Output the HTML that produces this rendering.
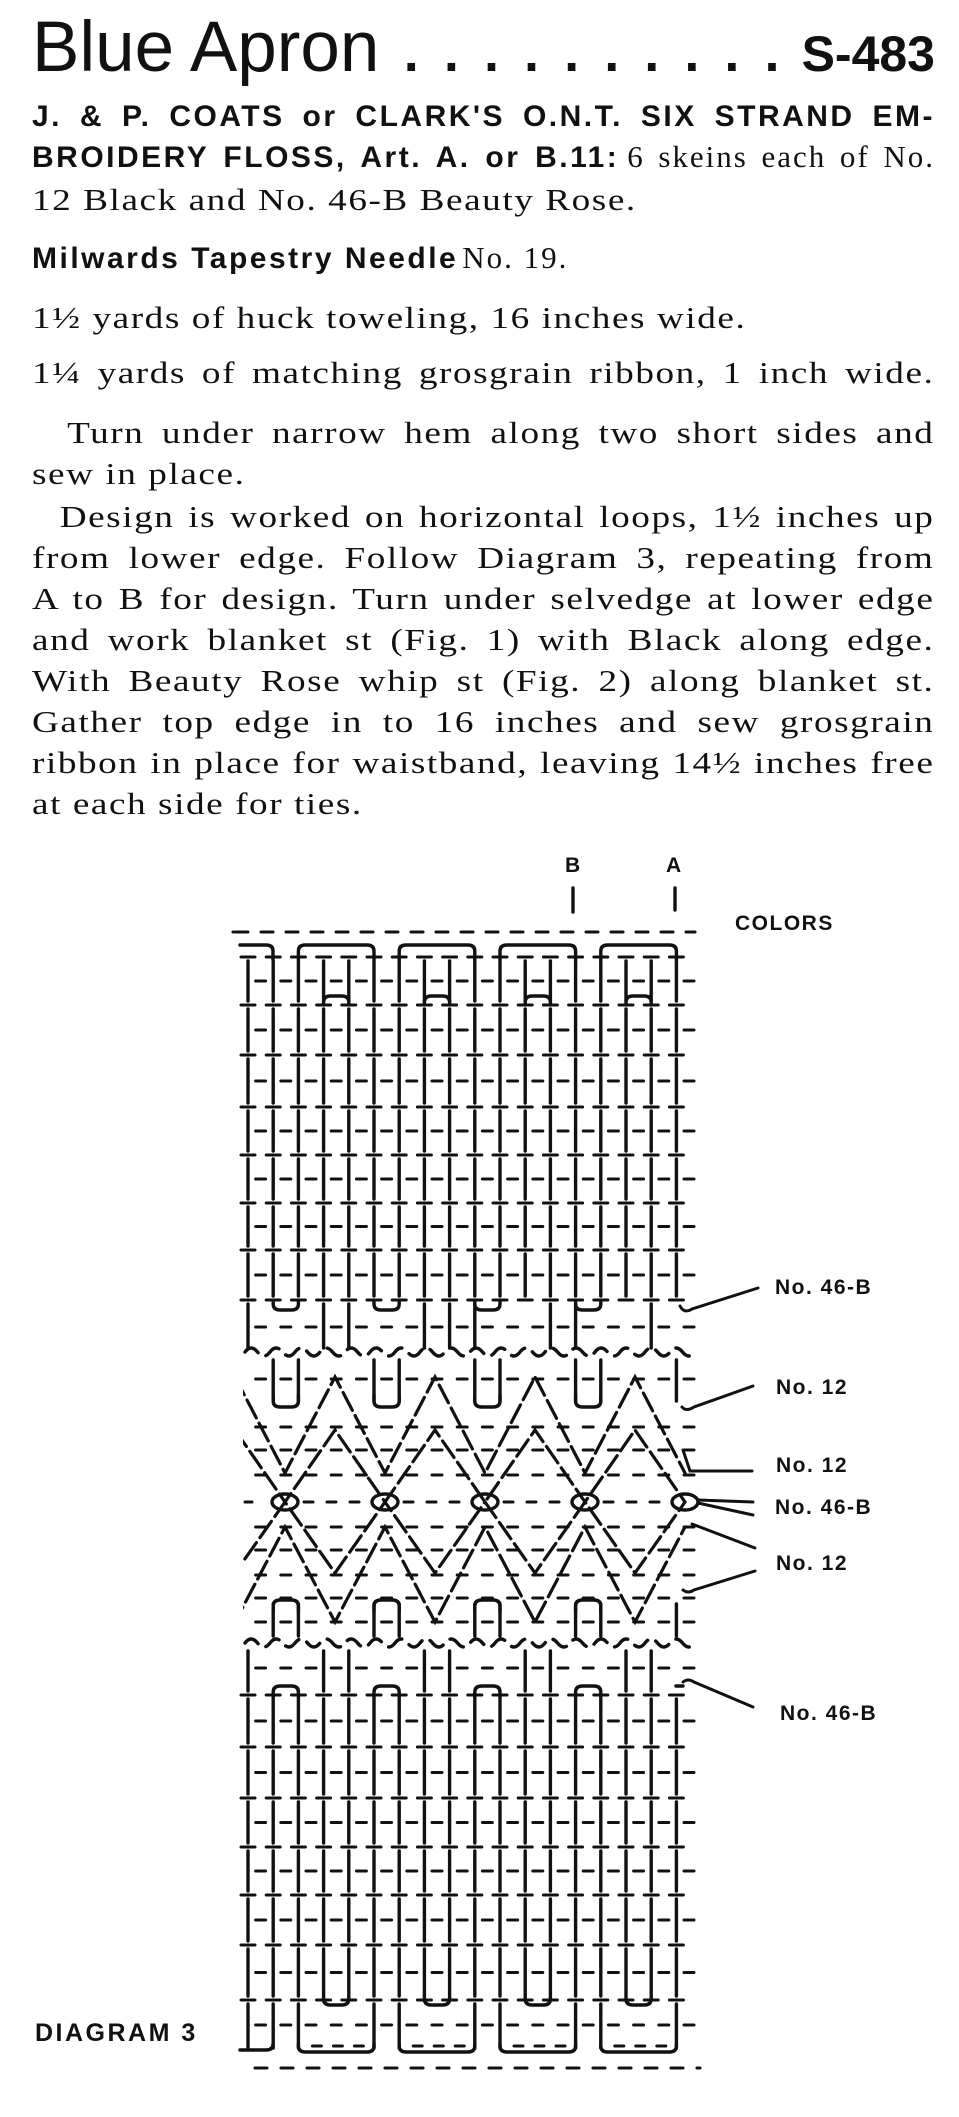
<!DOCTYPE html>
<html><head><meta charset="utf-8">
<style>
html,body{margin:0;padding:0;background:#fff;}
body{width:959px;height:2117px;position:relative;overflow:hidden;color:#111;}
.t{position:absolute;left:32px;width:903px;white-space:nowrap;line-height:1;}
.j{text-align:justify;text-align-last:justify;}
.s{font-family:"Liberation Serif",serif;font-size:31px;letter-spacing:1.3px;width:752px;transform:scaleX(1.2);transform-origin:0 0;}
.s2{font-family:"Liberation Serif",serif;font-size:31px;letter-spacing:2px;}
.b{font-family:"Liberation Sans",sans-serif;font-weight:bold;font-size:30px;letter-spacing:2.5px;}
.bs{font-family:"Liberation Sans",sans-serif;font-weight:bold;}
.lab{position:absolute;font-family:"Liberation Sans",sans-serif;font-weight:bold;font-size:21px;letter-spacing:1.5px;line-height:1;white-space:nowrap;}
svg{position:absolute;left:0;top:0;}
</style></head><body>
<div class="t" style="top:12px;font-family:'Liberation Sans',sans-serif;font-size:71px;display:flex;align-items:baseline;">
<span style="width:376px;">Blue Apron</span><span class="bs" style="display:flex;justify-content:space-between;width:380px;font-size:54px;margin-right:22px;"><span>.</span><span>.</span><span>.</span><span>.</span><span>.</span><span>.</span><span>.</span><span>.</span><span>.</span><span>.</span></span><span class="bs" style="font-size:50px;margin-left:auto;">S-483</span></div>
<div class="t j b" style="top:102px;">J. &amp; P. COATS or CLARK'S O.N.T. SIX STRAND EM-</div>
<div class="t j" style="top:141px;"><span class="b">BROIDERY FLOSS, Art. A. or B.11:</span> <span class="s2">6 skeins each of No.</span></div>
<div class="t s" style="top:184px;">12 Black and No. 46-B Beauty Rose.</div>
<div class="t" style="top:242px;"><span class="b">Milwards Tapestry Needle</span> <span class="s2">No. 19.</span></div>
<div class="t s" style="top:302px;">1½ yards of huck toweling, 16 inches wide.</div>
<div class="t s j" style="top:357px;">1¼ yards of matching grosgrain ribbon, 1 inch wide.</div>
<div class="t s j" style="top:417px;">&nbsp;&nbsp;Turn under narrow hem along two short sides and</div>
<div class="t s" style="top:458px;">sew in place.</div>
<div class="t s j" style="top:501px;">&nbsp;&nbsp;Design is worked on horizontal loops, 1½ inches up</div>
<div class="t s j" style="top:542px;">from lower edge. Follow Diagram 3, repeating from</div>
<div class="t s j" style="top:583px;">A to B for design. Turn under selvedge at lower edge</div>
<div class="t s j" style="top:624px;">and work blanket st (Fig. 1) with Black along edge.</div>
<div class="t s j" style="top:665px;">With Beauty Rose whip st (Fig. 2) along blanket st.</div>
<div class="t s j" style="top:706px;">Gather top edge in to 16 inches and sew grosgrain</div>
<div class="t s j" style="top:747px;">ribbon in place for waistband, leaving 14½ inches free</div>
<div class="t s" style="top:788px;">at each side for ties.</div>

<div class="lab" style="left:565px;top:855px;">B</div>
<div class="lab" style="left:666px;top:855px;">A</div>
<div class="lab" style="left:735px;top:913px;">COLORS</div>
<div class="lab" style="left:775px;top:1277px;">No. 46-B</div>
<div class="lab" style="left:776px;top:1377px;">No. 12</div>
<div class="lab" style="left:776px;top:1455px;">No. 12</div>
<div class="lab" style="left:775px;top:1497px;">No. 46-B</div>
<div class="lab" style="left:776px;top:1553px;">No. 12</div>
<div class="lab" style="left:780px;top:1703px;">No. 46-B</div>
<div class="lab" style="left:35px;top:2021px;font-size:25px;letter-spacing:2.5px;">DIAGRAM 3</div>

<svg id="g" width="959" height="2117" viewBox="0 0 959 2117" fill="none" stroke="#111" stroke-width="3.4" stroke-linecap="round"></svg>
<script>
(function(){
var g=document.getElementById('g'),h='';
function L(x1,y1,x2,y2,w){h+='<line x1="'+x1+'" y1="'+y1+'" x2="'+x2+'" y2="'+y2+'"'+(w?' stroke-width="'+w+'"':'')+'/>';}
function P(d,ex){h+='<path d="'+d+'" '+(ex||'')+'/>';}
var C=[];for(var i=0;i<18;i++)C.push(248+i*25.2);
function caps(y){C.forEach(function(x){L(x-7,y,x+7,y,3);});}
function mids(y,skip){for(var i=0;i<18;i++){var m=C[i]+12.6;if(skip&&skip.indexOf(i)>=0)continue;L(m-5,y,m+5,y,3);}}
function bars(y1,y2,list){(list||C.map(function(_,i){return i;})).forEach(function(i){L(C[i],y1+4,C[i],y2-4);});}
function arch(i1,i2,y,yb){var a=C[i1],b=C[i2];P('M'+a+' '+yb+' L'+a+' '+(y+6)+' Q'+a+' '+y+' '+(a+7)+' '+y+' L'+(b-7)+' '+y+' Q'+b+' '+y+' '+b+' '+(y+6)+' L'+b+' '+yb);}
function cup(i1,i2,y,yt){var a=C[i1],b=C[i2];P('M'+a+' '+yt+' L'+a+' '+(y-6)+' Q'+a+' '+y+' '+(a+7)+' '+y+' L'+(b-7)+' '+y+' Q'+b+' '+y+' '+b+' '+(y-6)+' L'+b+' '+yt);}
function dashline(y,x1,x2,d,gp){for(var x=x1;x<x2;x+=d+gp)L(x,y,Math.min(x+d,x2),y,3);}
function wave(y){var d='M245 '+y;for(var x=245;x<690;x+=25){d+=' q6 -8 12.5 0 t12.5 0';}P(d,'stroke-dasharray="16 9"');}
dashline(932,236,695,12,13);L(233,932,234,932,3);
L(573,888,573,912);L(675,888,675,910);
P('M240 945 L266 945 Q273 945 273 951 L273 960');
arch(2,5,945,960);arch(6,9,945,960);arch(10,13,945,960);arch(14,17,945,960);
var U=[957,1005,1055,1107,1155,1203,1250,1300];
U.forEach(function(y){caps(y);});
for(var j=0;j<U.length-1;j++){bars(U[j],U[j+1]);mids((U[j]+U[j+1])/2);}
[[3,4],[7,8],[11,12],[15,16]].forEach(function(p){arch(p[0],p[1],996,1003);});
[[1,2],[5,6],[9,10],[13,14]].forEach(function(p){cup(p[0],p[1],1310,1302);});
bars(1300,1352,[0,3,4,7,8,9,12,13,16]);mids(1327);
wave(1352);
bars(1356,1405,[1,2,5,6,9,10,13,14,17]);mids(1379);
[[1,2],[5,6],[9,10],[13,14]].forEach(function(p){cup(p[0],p[1],1407,1395);});
function zig(yp,yv,peakX){var xs=[];for(var x=peakX-100;x<=700;x+=50)xs.push(x);
 var pa=xs.map(function(x){var isPeak=((x-peakX)%100+100)%100===0;return [x,isPeak?yp:yv];});
 P('M'+pa.map(function(p){return p[0]+' '+p[1];}).join(' L'),'stroke-dasharray="20 6" stroke-width="3.2"');}
h+='<clipPath id="cz"><rect x="243" y="1360" width="450" height="280"/></clipPath><g clip-path="url(#cz)">';
zig(1377,1473,335);zig(1430,1502,335);zig(1502,1573,285);zig(1527,1622,285);
h+='</g>';
[1427,1450,1475,1527,1550,1575,1598].forEach(function(y){mids(y);});
for(var k=0;k<5;k++){var cx=285+k*100;h+='<ellipse cx="'+cx+'" cy="1502" rx="13" ry="8"/>';}
for(var k=0;k<4;k++){var x0=300+k*100;dashline(1502,x0+4,x0+72,9,14);}
L(245,1502,252,1502,3);
[[1,2],[5,6],[9,10],[13,14]].forEach(function(p){arch(p[0],p[1],1600,1612);});
bars(1600,1640,[1,2,5,6,9,10,13,14,17]);mids(1622);
wave(1643);
bars(1647,1695,[0,3,4,7,8,11,12,15,16]);mids(1668);
[[1,2],[5,6],[9,10],[13,14]].forEach(function(p){arch(p[0],p[1],1686,1698);});
L(676,1686,683,1686);
var B=[1695,1747,1798,1847,1895,1945,2000];
B.forEach(function(y){caps(y);});
for(var j=0;j<B.length-1;j++){bars(B[j],B[j+1]);mids((B[j]+B[j+1])/2);}
[[3,4],[7,8],[11,12],[15,16]].forEach(function(p){cup(p[0],p[1],2005,1997);});
bars(2000,2052,[0,1,2,5,6,9,10,13,14,17]);mids(2025);
P('M240 2050 L266 2050 Q273 2050 273 2044');
[[2,5],[6,9],[10,13],[14,17]].forEach(function(p){cup(p[0],p[1],2052,2044);});
[[2,5],[6,9],[10,13],[14,17]].forEach(function(p){dashline(2046,C[p[0]]+14,C[p[1]]-10,9,12);});
dashline(2068,255,700,12,14);
var lw='stroke-width="3"';
P('M680 1306 Q684 1314 692 1309 L758 1288',lw);
P('M682 1407 Q686 1412 694 1407 L753 1386',lw);
P('M683 1450 L690 1471 L752 1471',lw);
P('M698 1500 L753 1502',lw);P('M698 1503 L753 1515',lw);
P('M692 1524 L755 1548',lw);
P('M683 1590 Q688 1594 694 1590 L755 1571',lw);
P('M683 1682 Q688 1678 694 1682 L753 1707',lw);
g.innerHTML=h;
})();
</script>
</body></html>
